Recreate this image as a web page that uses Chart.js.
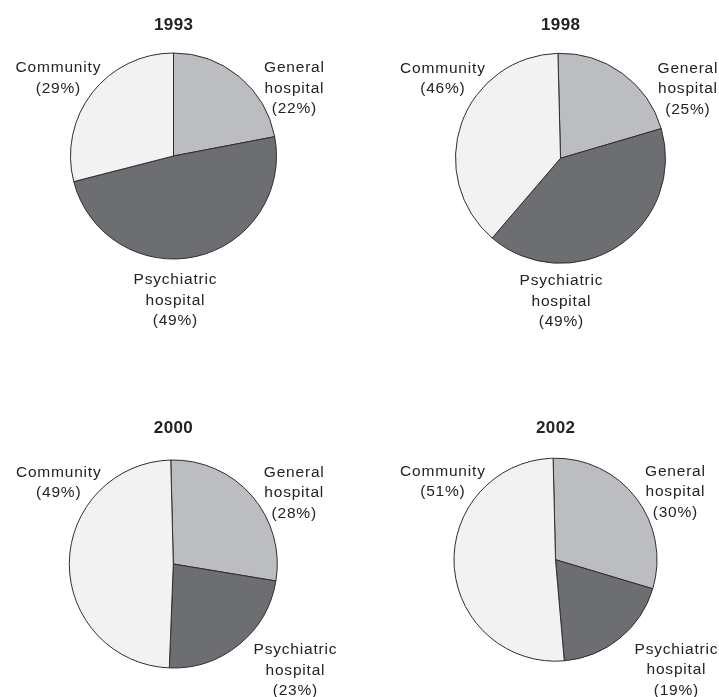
<!DOCTYPE html>
<html>
<head>
<meta charset="utf-8">
<script src="https://cdn.jsdelivr.net/npm/chart.js@4/dist/chart.umd.min.js"></script>
<style>
  body { margin: 0; background: #fff; }
  #wrap { position: relative; width: 719px; height: 697px; }
  #wrap canvas { position: absolute; }
</style>
</head>
<body>
<div id="wrap"></div>
<script>
// data (slice order clockwise from 12 o'clock)
var years = ['1993', '1998', '2000', '2002'];
var categories = ['General hospital', 'Psychiatric hospital', 'Community'];
var general = [22, 25, 28, 30];
var psychiatric = [49, 49, 23, 19];
var community = [29, 46, 49, 51];

var colors = ['#bcbdc0', '#6d6e72', '#f2f2f2'];

// where each pie sits on the page; labels are offsets from the pie centre
var layout = [
  { box: [0, 0, 360, 348], cx: 173.5, cy: 156, r: 103, rot: 0, title: -131,
    labels: [[120.5, -88], [1.5, 124], [-115.5, -88]] },
  { box: [360, 0, 359, 348], cx: 560.5, cy: 158.3, r: 105, rot: -1.4, title: -133,
    labels: [[127, -90], [0.5, 122.5], [-118, -90]] },
  { box: [0, 348, 360, 349], cx: 173.3, cy: 564, r: 104, rot: -1.4, title: -135.5,
    labels: [[120.5, -91.3], [121.7, 86], [-115, -91.3]] },
  { box: [360, 348, 359, 349], cx: 555.5, cy: 559.7, r: 101.5, rot: -1.35, title: -131.4,
    labels: [[119.5, -88], [120.5, 89.6], [-113, -88]] }
];

var textPlugin = {
  id: 'pieText',
  afterDraw: function(chart) {
    var opts = chart.options.plugins.pieText;
    var arc = chart.getDatasetMeta(0).data[0];
    var ctx = chart.ctx;
    var x = arc.x, y = arc.y;
    ctx.save();
    ctx.fillStyle = '#232323';
    ctx.textAlign = 'center';
    ctx.textBaseline = 'middle';

    ctx.font = 'bold 17px "Liberation Sans", Arial, sans-serif';
    if ('letterSpacing' in ctx) ctx.letterSpacing = '0.4px';
    ctx.fillText(opts.title, x + 0.2, y + opts.titleDy);

    ctx.font = '15.5px "Liberation Sans", Arial, sans-serif';
    if ('letterSpacing' in ctx) ctx.letterSpacing = '0.8px';
    opts.lines.forEach(function(lines, i) {
      var off = opts.offsets[i];
      lines.forEach(function(t, j) {
        ctx.fillText(t, x + off[0] + 0.4, y + off[1] + j * 20.5);
      });
    });
    ctx.restore();
  }
};

var wrap = document.getElementById('wrap');

years.forEach(function(year, k) {
  var L = layout[k];
  var bx = L.box[0], by = L.box[1], bw = L.box[2], bh = L.box[3];
  var canvas = document.createElement('canvas');
  canvas.width = bw;
  canvas.height = bh;
  canvas.style.left = bx + 'px';
  canvas.style.top = by + 'px';
  wrap.appendChild(canvas);

  var values = [general[k], psychiatric[k], community[k]];
  var lines = categories.map(function(c, i) {
    return c.split(' ').concat('(' + values[i] + '%)');
  });

  var h = L.r + 5;
  new Chart(canvas.getContext('2d'), {
    type: 'pie',
    data: {
      labels: categories,
      datasets: [{
        data: values,
        backgroundColor: colors,
        borderColor: '#2e2e2e',
        borderWidth: 1
      }]
    },
    options: {
      responsive: false,
      animation: false,
      devicePixelRatio: 1,
      rotation: L.rot,
      radius: L.r,
      layout: {
        padding: {
          left: L.cx - bx - h,
          right: bw - (L.cx - bx) - h,
          top: L.cy - by - h,
          bottom: bh - (L.cy - by) - h
        }
      },
      plugins: {
        legend: { display: false },
        tooltip: { enabled: false },
        pieText: { title: year, titleDy: L.title, offsets: L.labels, lines: lines }
      }
    },
    plugins: [textPlugin]
  });
});
</script>
</body>
</html>
